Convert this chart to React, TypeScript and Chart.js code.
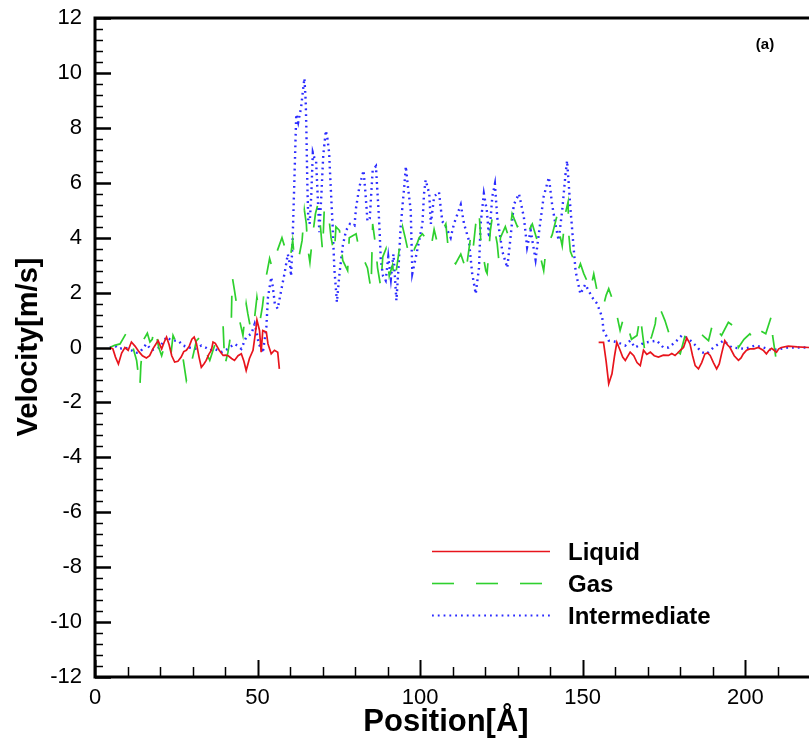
import { useEffect, useRef } from 'react';
import { Chart, registerables } from 'chart.js';

Chart.register(...registerables);

const FONT = "'Liberation Sans', Arial, sans-serif";

// ---- Data (Position [Å], Velocity [m/s]) ----
const liquidX = [
  4.6, 5.5, 6.3, 7.2, 8.2, 9.2, 10.2, 11.2, 12.3, 13.5, 14.6, 15.8, 16.8, 17.8, 18.6, 19.4, 20.5, 21.3, 22.0, 22.8,
  23.6, 24.5, 25.5, 26.5, 27.3, 28.1, 29.0, 29.8, 30.5, 31.2, 32.0, 32.7, 33.5, 34.2, 35.0, 35.8, 36.3, 37.0, 38.2, 39.4,
  40.2, 41.0, 42.0, 42.9, 44.0, 45.0, 45.8, 46.5, 47.5, 48.6, 49.3, 49.8, 50.6, 51.1, 51.6, 52.7, 53.2, 54.2, 55.2, 56.2, 56.7,
  100,
  154.9, 156.4, 157.2, 158.0, 159.0, 159.8, 160.5, 161.5, 162.3, 163.1, 164.6, 165.7, 166.7, 167.7, 168.7, 169.7, 170.8,
  172.0, 173.3, 174.8, 176.4, 177.4, 178.4, 179.2, 180.0, 181.0, 182.0, 183.0, 183.8, 184.6, 185.6, 186.6, 187.6, 188.4,
  189.2, 190.2, 191.2, 192.0, 192.7, 193.7, 194.5, 195.3, 196.6, 197.9, 198.7, 199.4, 200.4, 201.4, 202.7, 204.0, 205.5,
  206.5, 207.3, 208.1, 209.6, 210.3, 211.1, 213.2, 216.0, 219.6,
];
const liquidY = [
  0, -0.05, -0.35, -0.6, -0.2, 0.0, -0.1, 0.2, 0.05, -0.15, -0.3, -0.38, -0.3, -0.05, 0.1, 0.25, -0.05, 0.2, 0.38, 0.1,
  -0.3, -0.53, -0.5, -0.35, -0.15, -0.1, 0.05, 0.3, 0.38, 0.15, -0.35, -0.72, -0.6, -0.47, -0.25, -0.1, 0.2, 0.15, -0.1, -0.29,
  -0.28, -0.3, -0.4, -0.47, -0.3, -0.23, -0.5, -0.84, -0.4, -0.1, 0.5, 1.0, 0.62, -0.17, 0.62, 0.56, 0.13, -0.23, -0.1, -0.17, -0.78,
  null,
  0.19, 0.19, -0.5, -1.32, -0.96, -0.3, 0.19, -0.1, -0.35, -0.47, -0.17, -0.3, -0.55, -0.66, -0.1, -0.25, -0.17,
  -0.3, -0.35, -0.28, -0.29, -0.22, -0.29, -0.2, -0.1, 0.0, 0.35, 0.13, -0.3, -0.66, -0.78, -0.55, -0.23, -0.2,
  -0.29, -0.55, -0.78, -0.6, -0.23, 0.25, 0.1, 0.0, -0.3, -0.47, -0.38, -0.23, -0.1, -0.05, -0.05, 0.0, -0.1,
  -0.23, -0.1, -0.03, -0.17, -0.05, 0.0, 0.05, 0.02, 0.0,
];

const gasX = [
  4.6, 6.0, 7.7, 10.0, 11.2, 12.8, 13.8, 14.1, 14.8, 16.1, 16.9, 17.6, 18.4, 19.6, 20.5, 21.5, 22.5, 23.5, 24.0, 24.7,
  25.8, 27.1, 28.1, 28.9, 29.7, 31.2, 32.5, 33.7, 35.3, 36.3, 37.3, 39.4, 39.9, 40.9, 41.4, 41.9, 42.2, 42.9, 44.0, 45.5,
  46.5, 47.0, 48.0, 49.1, 49.8, 50.8, 51.5, 52.5, 53.0, 53.7, 54.5, 55.7, 57.5, 58.5, 60.0, 60.8, 61.3, 62.4, 63.7, 64.4,
  65.0, 65.4, 66.1, 67.0, 67.8, 68.5, 69.0, 70.0, 70.5, 71.6, 72.6, 73.6, 74.1, 75.2, 76.2, 77.7, 78.2, 80.3, 80.8, 82.3,
  83.8, 84.9, 85.4, 86.2, 86.9, 87.9, 88.5, 89.5, 90.5, 91.5, 92.2, 93.5, 94.6, 95.4, 96.5, 97.5, 98.3, 99.2, 99.7, 100.7,
  102.2, 103.3, 104.3, 105.3, 106.3, 107.9, 108.9, 110.9, 112.5, 113.5, 114.0, 115.5, 116.2, 117.1, 118.1, 118.6, 119.1,
  119.6, 120.2, 120.6, 121.6, 122.2, 123.7, 124.2, 124.7, 126.2, 127.3, 128.3, 129.9, 131.9, 133.2, 134.5, 136.0, 137.0,
  138.0, 138.5, 139.5, 140.6, 142.1, 142.8, 143.7, 144.7, 145.5, 145.7, 146.2, 147.2, 148.2, 149.3, 150.3, 151.8, 152.3,
  153.4, 154.4, 156.4, 157.2, 158.0, 160.0, 161.5, 162.6, 163.6, 165.0, 166.7, 167.7, 168.5, 169.2, 170.2, 171.2, 172.3,
  173.0, 174.2, 175.3, 177.4, 178.6, 180.0, 181.5, 182.6, 184.0, 185.6, 187.2, 188.7, 190.2, 191.5, 192.7, 194.8, 196.8,
  197.9, 199.6, 201.4, 203.0, 204.5, 206.3, 208.1, 208.4, 209.6, 211.0, 212.2,
];
const gasY = [
  0, 0.08, 0.13, 0.6, 0.2, -0.47, -1.45, -0.66, 0.25, 0.52, 0.2, 0.3, 0.74, 0.0, -0.3, 0.1, 0.3, -0.1, 0.44, 0.25,
  0.1, -0.41, -1.2, -0.9, -0.53, 0.25, 0.4, -0.05, -0.47, -0.1, 0.25, 0.8, -0.66, -0.17, 0.2, 0.8, 2.59, 2.08, 1.23, 0.44,
  1.59, 1.23, 0.6, 1.1, 1.83, 1.0, 1.5, 2.5, 2.8, 3.24, 2.9, 3.4, 4.0, 3.6, 3.2, 3.9, 3.3, 3.1, 3.9, 5.0,
  4.5, 3.65, 3.1, 4.14, 4.87, 5.2, 4.87, 3.5, 5.0, 5.1, 4.0, 3.4, 4.4, 4.26, 3.17, 2.8, 4.0, 4.14, 3.83, 3.3,
  2.9, 2.1, 4.5, 3.8, 2.9, 2.2, 3.3, 3.6, 2.6, 3.0, 2.4, 3.5, 4.4, 4.0, 3.4, 3.2, 3.6, 3.83, 4.0, 4.14,
  3.9, 3.6, 4.3, 3.8, 4.14, 4.5, 3.3, 3.05, 3.4, 3.05, 2.7, 4.0, 3.5, 4.5, 5.0, 4.0, 3.5,
  3.2, 2.8, 2.7, 4.26, 4.75, 3.78, 3.17, 4.0, 4.4, 4.0, 4.87, 4.4, 4.6, 4.2, 4.5, 3.9, 3.3,
  2.8, 3.35, 3.8, 4.1, 4.8, 4.2, 3.7, 4.9, 5.3, 4.14, 3.5, 3.2, 2.7, 3.05, 2.7, 2.3, 2.07,
  2.68, 2.07, 1.53, 1.9, 2.14, 1.47, 0.62, 1.1, 0.86, 0.3, 0.44, 1.17, 0.4, -0.23, 0.13, 0.4, 0.86,
  1.59, 1.3, 0.98, 0.2, -0.1, -0.23, 0.44, 0.5, 0.68, 0.62, 0.4, 0.25, 0.98, 0.6, 0.44, 0.92, 0.74,
  0.0, 0.3, 0.5, 0.2, 0.62, 0.5, 1.17, 0.44, -0.53, -0.3, -0.1,
];

const interX = [
  4.6, 6.1, 7.5, 9.2, 11.2, 12.5, 13.8, 15.8, 17.4, 18.6, 19.9, 21.0, 22.0, 23.0, 24.0, 25.6, 27.1, 29.0, 30.7, 32.7,
  34.0, 35.3, 36.8, 38.9, 40.2, 41.4, 42.9, 44.0, 45.0, 46.5, 48.1, 49.1, 49.8, 50.4, 51.1, 51.6, 52.2, 52.7, 53.2, 54.2,
  54.7, 55.3, 56.2, 57.3, 58.3, 59.3, 60.0, 60.3, 60.8, 61.3, 61.9, 62.5, 63.4, 64.0, 64.4, 64.8, 65.0, 65.3, 65.6, 66.0,
  66.5, 67.0, 67.5, 68.0, 68.5, 69.0, 69.6, 70.2, 71.0, 71.5, 72.0, 72.6, 73.1, 73.6, 74.4, 75.2, 76.2, 77.2, 78.4, 79.8,
  80.3, 81.3, 82.6, 83.2, 83.8, 84.5, 85.4, 86.4, 87.4, 87.9, 88.6, 89.4, 90.2, 91.0, 91.8, 92.7, 93.4, 94.0, 95.1, 95.6,
  96.3, 97.1, 97.6, 98.7, 99.7, 100.7, 101.2, 101.7, 102.8, 103.3, 104.3, 105.8, 106.8, 107.9, 109.4, 110.4, 112.5, 113.5,
  115.0, 116.0, 117.1, 118.1, 118.6, 119.6, 120.5, 121.2, 122.2, 123.0, 123.7, 125.3, 126.8, 127.8, 128.8, 130.4, 131.9,
  132.9, 134.0, 135.5, 137.0, 138.0, 139.6, 140.6, 141.6, 142.6, 143.7, 144.7, 145.2, 146.2, 147.2, 147.8, 148.3, 149.3,
  150.8, 152.9, 154.4, 156.0, 156.4, 158.0, 160.5, 163.1, 164.6, 166.1, 168.2, 170.2, 172.8, 174.8, 176.4, 178.5, 180.5,
  182.5, 184.5, 186.6, 188.1, 190.2, 193.3, 195.8, 199.9, 203.0, 205.5, 208.1, 213.2, 219.6,
];
const interY = [
  0.0, 0.07, -0.05, 0.0, -0.1, -0.2, -0.17, 0.13, -0.1, -0.05, 0.0, 0.2, 0.38, 0.3, 0.25, 0.25, 0.07, 0.0, -0.05, 0.07,
  0.0, -0.1, -0.05, -0.17, -0.1, 0.0, 0.13, 0.05, -0.05, 0.38, 0.5, 0.86, 0.5, 0.1, 0.0, -0.2, 0.3, 0.74, 1.83, 2.56,
  2.2, 1.6, 1.41, 2.1, 2.7, 3.4, 3.0, 2.6, 4.0, 6.0, 8.5, 8.2, 8.75, 9.4, 9.8, 9.0, 8.0, 6.0, 4.6, 4.5,
  5.5, 7.1, 6.9, 6.8, 5.5, 4.2, 5.5, 7.0, 7.9, 7.6, 7.1, 5.6, 4.4, 2.9, 1.65, 2.7, 3.7, 4.26, 4.5, 4.44,
  5.1, 5.84, 6.45, 5.6, 4.6, 4.7, 6.45, 6.6, 4.6, 3.2, 2.6, 2.44, 3.3, 2.5, 3.4, 1.71, 3.0, 4.4, 5.84, 6.6,
  5.8, 5.0, 2.7, 3.3, 3.9, 4.5, 5.6, 6.1, 5.6, 4.5, 5.5, 5.66, 4.6, 4.4, 4.0, 4.5, 5.2, 4.5,
  3.9, 2.7, 1.95, 2.9, 4.5, 5.6, 5.0, 4.0, 5.5, 5.96, 4.75, 3.5, 2.9, 4.0, 5.2, 5.6, 4.75,
  3.65, 4.26, 3.2, 4.6, 5.5, 6.2, 5.2, 4.5, 3.9, 5.0, 6.3, 6.8, 5.1, 3.65, 2.8, 2.5, 1.95,
  2.3, 1.83, 1.6, 1.1, 0.62, 0.25, 0.2, 0.07, 0.25, 0.0, 0.13, 0.2, 0.25, 0.0, 0.0, 0.2, 0.44,
  0.33, 0.1, -0.17, -0.23, 0.0, 0.25, 0.0, -0.05, 0.07, 0.0, -0.1, 0.0, 0.0,
];

const seriesNames = ['Liquid', 'Gas', 'Intermediate'];
const seriesColors = ['#e8141c', '#2ed02e', '#2b2bff'];
const seriesDash: number[][] = [[], [22, 22], [1.8, 4]];
const seriesWidth = [1.7, 1.7, 2.4];

const xTickValues = [0, 50, 100, 150, 200];
const yTickValues = [-12, -10, -8, -6, -4, -2, 0, 2, 4, 6, 8, 10, 12];

const pts = (xs: number[], ys: (number | null)[]) => xs.map((x, i) => ({ x, y: ys[i] }));

const framePlugin = {
  id: 'frame',
  afterDraw(chart: any) {
    const { ctx, chartArea, scales } = chart;
    const { left, top, right, bottom } = chartArea;
    const xs = scales.x;
    const ys = scales.y;
    ctx.save();
    ctx.strokeStyle = '#000';
    // y ticks (inside)
    for (let i = 0; i <= 60; i++) {
      const v = -12 + i * 0.4;
      const py = Math.round(ys.getPixelForValue(v)) + 0.5;
      const major = i % 5 === 0;
      ctx.lineWidth = major ? 2.5 : 1.5;
      ctx.beginPath();
      ctx.moveTo(left, py);
      ctx.lineTo(left + (major ? 16 : 8), py);
      ctx.stroke();
    }
    // x ticks (inside)
    for (let v = 0; v <= xs.max; v += 10) {
      const px = Math.round(xs.getPixelForValue(v)) + 0.5;
      const major = v % 50 === 0;
      ctx.lineWidth = major ? 2 : 1.5;
      ctx.beginPath();
      ctx.moveTo(px, bottom);
      ctx.lineTo(px, bottom - (major ? 17 : 10));
      ctx.stroke();
    }
    // frame
    ctx.lineWidth = 3;
    ctx.beginPath();
    ctx.moveTo(right + 2, top);
    ctx.lineTo(left, top);
    ctx.lineTo(left, bottom);
    ctx.lineTo(right + 2, bottom);
    ctx.stroke();

    // axis titles
    ctx.fillStyle = '#000';
    ctx.font = `bold 29px ${FONT}`;
    ctx.textAlign = 'center';
    ctx.textBaseline = 'middle';
    ctx.save();
    ctx.translate(29, 347);
    ctx.rotate(-Math.PI / 2);
    ctx.fillText('Velocity[m/s]', 0, 0);
    ctx.restore();
    ctx.font = `bold 31px ${FONT}`;
    ctx.fillText('Position[Å]', 446, 722);

    // legend
    const rows = [551, 583, 615];
    rows.forEach((ry, i) => {
      ctx.strokeStyle = seriesColors[i];
      ctx.lineWidth = i === 2 ? 2 : 1.6;
      ctx.setLineDash(seriesDash[i]);
      ctx.beginPath();
      ctx.moveTo(432, ry + 0.5);
      ctx.lineTo(550, ry + 0.5);
      ctx.stroke();
      ctx.setLineDash([]);
      ctx.fillStyle = '#000';
      ctx.font = `bold 24px ${FONT}`;
      ctx.textAlign = 'left';
      ctx.textBaseline = 'middle';
      ctx.fillText(seriesNames[i], 568, ry + 2);
    });

    // panel label
    ctx.font = `bold 15px ${FONT}`;
    ctx.textAlign = 'center';
    ctx.fillText('(a)', 765, 45);
    ctx.restore();
  },
};

export default function App() {
  const ref = useRef<HTMLCanvasElement | null>(null);
  useEffect(() => {
    if (!ref.current) return;
    const datasets = [
      { x: liquidX, y: liquidY },
      { x: gasX, y: gasY },
      { x: interX, y: interY },
    ].map((s, i) => ({
      label: seriesNames[i],
      data: pts(s.x, s.y),
      borderColor: seriesColors[i],
      backgroundColor: seriesColors[i],
      borderWidth: seriesWidth[i],
      borderDash: seriesDash[i],
      pointRadius: 0,
      tension: 0,
      spanGaps: false,
      fill: false,
    }));
    const chart = new Chart(ref.current, {
      type: 'line',
      data: { datasets },
      options: {
        animation: false,
        responsive: false,
        maintainAspectRatio: false,
        layout: { padding: { top: 18, right: 0, left: 0, bottom: 0 } },
        plugins: { legend: { display: false }, tooltip: { enabled: false } },
        scales: {
          x: {
            type: 'linear',
            min: 0,
            max: 219.6,
            afterBuildTicks: (s: any) => {
              s.ticks = xTickValues.map((v) => ({ value: v }));
            },
            afterFit: (s: any) => {
              s.height = 66;
              s.paddingLeft = 0;
              s.paddingRight = 0;
            },
            grid: { display: false, drawTicks: false },
            border: { display: false },
            ticks: {
              color: '#000',
              font: { family: FONT, size: 22 },
              padding: 8,
              maxRotation: 0,
              autoSkip: false,
            },
          },
          y: {
            type: 'linear',
            min: -12,
            max: 12,
            afterBuildTicks: (s: any) => {
              s.ticks = yTickValues.map((v) => ({ value: v }));
            },
            afterFit: (s: any) => {
              s.width = 95;
              s.paddingTop = 0;
              s.paddingBottom = 0;
            },
            grid: { display: false, drawTicks: false },
            border: { display: false },
            ticks: {
              color: '#000',
              font: { family: FONT, size: 22 },
              padding: 13,
              autoSkip: false,
            },
          },
        },
      },
      plugins: [framePlugin],
    });
    return () => chart.destroy();
  }, []);
  return (
    <div style={{ position: 'absolute', left: 0, top: 0, width: 809, height: 743, background: '#fff' }}>
      <canvas ref={ref} width={809} height={743} style={{ width: 809, height: 743 }} />
    </div>
  );
}
